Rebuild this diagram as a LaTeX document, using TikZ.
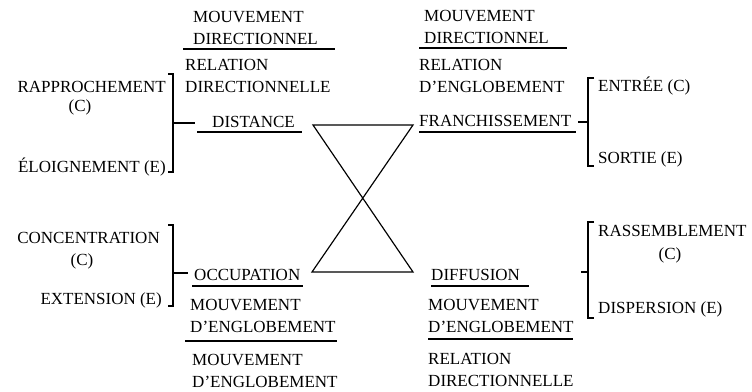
\documentclass[tikz,border=0pt]{standalone}
\usepackage{fontspec}
\setmainfont{Liberation Serif}
\usetikzlibrary{calc}

\tikzset{
  lab/.style={font=\fontsize{14.5}{18}\selectfont, inner sep=0pt, align=left},
  uline/.style={line width=1.3pt},
  brk/.style={line width=0.9pt},
  hour/.style={line width=1pt, line join=miter}
}

\begin{document}
\begin{tikzpicture}[x=0.03cm, y=-0.03cm]
    \useasboundingbox (0,0) rectangle (752,392);

    % Upper left: distance
    \node[lab, anchor=base west] (mvdirA) at (193,44) {MOUVEMENT\\DIRECTIONNEL};
    \draw[uline] (183,49) -- (335,49);
    \node[lab, anchor=base west] (reldirA) at (185,92) {RELATION\\DIRECTIONNELLE};
    \node[lab, anchor=base west] (distance) at (212,127) {DISTANCE};
    \draw[uline] (197,132) -- (302,132);
    \node[lab, anchor=base east] (rappro) at (166,92) {RAPPROCHEMENT};
    \node[lab, anchor=base] (rapproC) at (80,111) {(C)};
    \node[lab, anchor=base east] (eloign) at (166,172) {ÉLOIGNEMENT (E)};
    \draw[brk] (168,74) -- (173,74) -- (173,172) -- (168,172);
    \coordinate (brkA) at (173,123);
    \draw[brk] (brkA) -- ++(22,0);

    % Upper right: franchissement
    \node[lab, anchor=base west] (mvdirB) at (424,43) {MOUVEMENT\\DIRECTIONNEL};
    \draw[uline] (419,48) -- (567,48);
    \node[lab, anchor=base west] (relengl) at (419,92) {RELATION\\D'ENGLOBEMENT};
    \node[lab, anchor=base west] (franch) at (419,126) {FRANCHISSEMENT};
    \draw[uline] (419,132) -- (576,132);
    \node[lab, anchor=base west] (entree) at (598,91) {ENTRÉE (C)};
    \node[lab, anchor=base west] (sortie) at (598,163) {SORTIE (E)};
    \draw[brk] (594,78) -- (588,78) -- (588,166) -- (594,166);
    \coordinate (brkB) at (588,122);
    \draw[brk] (brkB) -- ++(-10,0);

    % Lower left: occupation
    \node[lab, anchor=base east] (concen) at (160,243) {CONCENTRATION};
    \node[lab, anchor=base] (concenC) at (82,265) {(C)};
    \node[lab, anchor=base east] (extens) at (162,304) {EXTENSION (E)};
    \draw[brk] (168,225) -- (173,225) -- (173,306) -- (168,306);
    \coordinate (brkC) at (173,273);
    \draw[brk] (brkC) -- ++(15,0);
    \node[lab, anchor=base west] (occup) at (194,280) {OCCUPATION};
    \draw[uline] (192,286) -- (303,286);
    \node[lab, anchor=base west] (mvenglA) at (190,332) {MOUVEMENT\\D'ENGLOBEMENT};
    \draw[uline] (185,341) -- (337,341);
    \node[lab, anchor=base west] (mvenglB) at (192,387) {MOUVEMENT\\D'ENGLOBEMENT};

    % Lower right: diffusion
    \node[lab, anchor=base west] (diffus) at (431,280) {DIFFUSION};
    \draw[uline] (431,286) -- (529,286);
    \node[lab, anchor=base west] (mvenglC) at (428,332) {MOUVEMENT\\D'ENGLOBEMENT};
    \draw[uline] (428,339) -- (573,339);
    \node[lab, anchor=base west] (reldirB) at (428,386) {RELATION\\DIRECTIONNELLE};
    \node[lab, anchor=base west] (rassem) at (598,236) {RASSEMBLEMENT};
    \node[lab, anchor=base] (rassemC) at (670,259) {(C)};
    \node[lab, anchor=base west] (dispers) at (598,313) {DISPERSION (E)};
    \draw[brk] (594,222) -- (588,222) -- (588,318) -- (594,318);
    \coordinate (brkD) at (588,272);
    \draw[brk] (brkD) -- ++(-7,0);

    % Hourglass
    \coordinate (hTL) at (313,125);
    \coordinate (hTR) at (413,125);
    \coordinate (hBL) at (312,272);
    \coordinate (hBR) at (413,272);
    \draw[hour] (hTL) -- (hTR) -- (hBL) -- (hBR) -- cycle;
\end{tikzpicture}
\end{document}
